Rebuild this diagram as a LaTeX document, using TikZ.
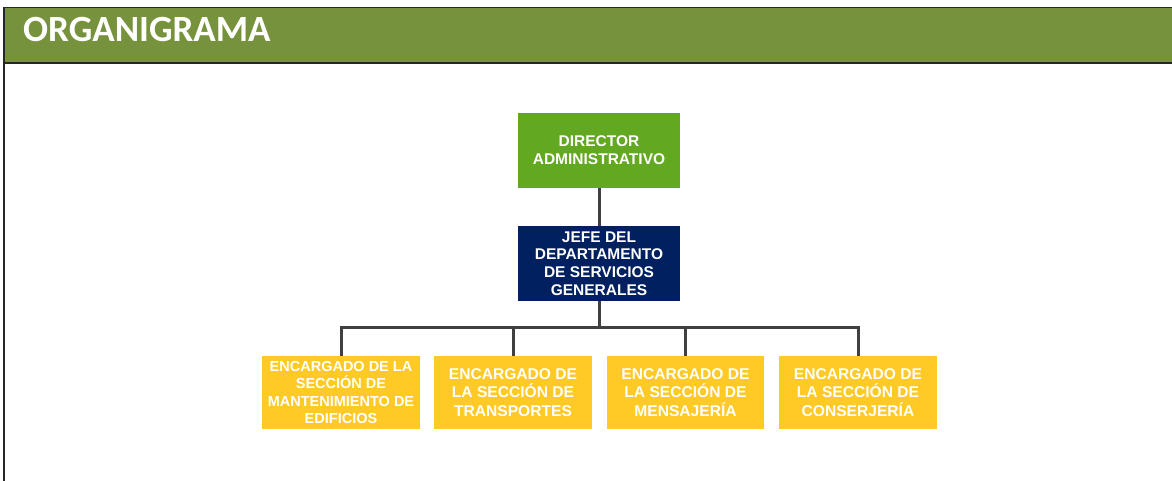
\documentclass[tikz,border=0pt]{standalone}
\usepackage{fontspec}
\setmainfont{Liberation Sans}
\newfontfamily\titlefont{Carlito}
\definecolor{hdr}{HTML}{76923C}
\definecolor{dirgreen}{HTML}{63A821}
\definecolor{navy}{HTML}{002060}
\definecolor{gold}{HTML}{FFC926}
\definecolor{conn}{HTML}{404040}
\tikzset{
  box/.style={rectangle, inner sep=0pt, text=white, align=center,
    font=\fontsize{15.5}{17.8}\selectfont\bfseries},
  topbox/.style={box, minimum width=162pt, minimum height=75pt},
  secbox/.style={box, fill=gold, minimum width=158pt, minimum height=73pt},
  link/.style={draw=conn, line width=3pt}
}
\begin{document}
\begin{tikzpicture}[x=1pt,y=-1pt]
\useasboundingbox (0,0) rectangle (1172,481);
\fill[white] (0,0) rectangle (1172,481);
% header band
\fill[hdr] (4,8) rectangle (1172,63);
\draw[black!85, line width=1.2pt] (4,7.5) -- (1172,7.5);
\draw[black!85, line width=1.2pt] (4,63) -- (1172,63);
\draw[black!85, line width=1.5pt] (4,7) -- (4,481);
\node[anchor=base west, inner sep=0pt, text=white, font=\titlefont\bfseries\fontsize{37}{40}\selectfont] (title) at (23,42) {ORGANIGRAMA};
% boxes
\node[topbox, fill=dirgreen] (dir) at (599,150.5) {DIRECTOR\\ADMINISTRATIVO};
\node[topbox, fill=navy] (jefe) at (599,263.5) {JEFE DEL\\DEPARTAMENTO\\DE SERVICIOS\\GENERALES};
\node[secbox, font=\fontsize{14.5}{17.3}\selectfont\bfseries] (b1) at (341,392.5) {ENCARGADO DE LA\\SECCIÓN DE\\MANTENIMIENTO DE\\EDIFICIOS};
\node[secbox, font=\fontsize{15.6}{18.8}\selectfont\bfseries] (b2) at (513,392.5) {ENCARGADO DE\\LA SECCIÓN DE\\TRANSPORTES};
\node[secbox, minimum width=157pt, font=\fontsize{15.6}{18.8}\selectfont\bfseries] (b3) at (685.5,392.5) {ENCARGADO DE\\LA SECCIÓN DE\\MENSAJERÍA};
\node[secbox, font=\fontsize{15.6}{18.8}\selectfont\bfseries] (b4) at (858,392.5) {ENCARGADO DE\\LA SECCIÓN DE\\CONSERJERÍA};
% connectors
\draw[link] (dir.south) -- (jefe.north);
\draw[link] (jefe.south) -- ++(0,26) coordinate (bus);
\draw[link] (bus) -| (b1.north);
\draw[link] (bus) -| (b2.north);
\draw[link] (bus) -| (b3.north);
\draw[link] (bus) -| (b4.north);
\end{tikzpicture}
\end{document}
